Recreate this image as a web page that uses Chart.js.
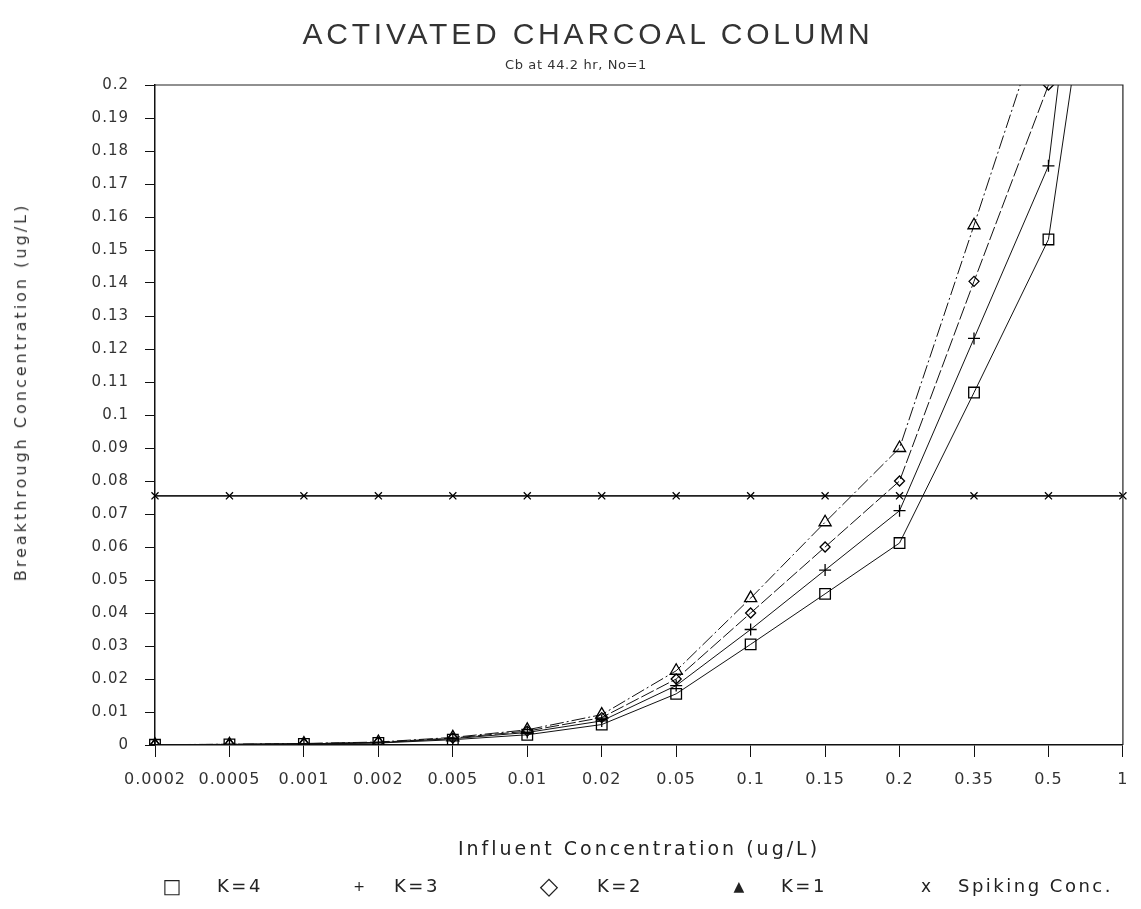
<!DOCTYPE html>
<html>
<head>
<meta charset="utf-8">
<script src="https://cdn.jsdelivr.net/npm/chart.js@4/dist/chart.umd.min.js"></script>
<style>
html,body{margin:0;padding:0;background:#fff;}
#wrap{position:relative;width:1141px;height:909px;overflow:hidden;background:#fff;}
#c{position:absolute;left:0;top:0;}
.txt{position:absolute;white-space:nowrap;color:#222;font-family:'DejaVu Sans',sans-serif;line-height:1;}
#title{left:588px;top:34px;transform:translate(-50%,-50%);font-family:'Liberation Sans',sans-serif;font-size:30px;letter-spacing:3.8px;color:#333;}
#subtitle{left:576px;top:64px;transform:translate(-50%,-50%);font-size:13px;letter-spacing:0.6px;color:#333;}
#ytitle{left:21px;top:392px;transform:translate(-50%,-50%) rotate(-90deg);font-size:16px;letter-spacing:3px;color:#333;}
#xtitle{left:639px;top:848px;transform:translate(-50%,-50%);font-size:19px;letter-spacing:3px;}
.sym{transform:translate(-50%,-50%);font-size:20px;}
.lab{transform:translateY(-50%);font-size:18px;letter-spacing:2.5px;}
</style>
</head>
<body>
<div id="wrap">
<canvas id="c" width="1141" height="909"></canvas>
<div class="txt" id="title">ACTIVATED CHARCOAL COLUMN</div>
<div class="txt" id="subtitle">Cb at 44.2 hr, No=1</div>
<div class="txt" id="ytitle">Breakthrough Concentration (ug/L)</div>
<div class="txt" id="xtitle">Influent Concentration (ug/L)</div>
<div id="legend"></div>
</div>
<script>
// ---- data ----
const categories = ['0.0002','0.0005','0.001','0.002','0.005','0.01','0.02','0.05','0.1','0.15','0.2','0.35','0.5','1'];
const k4 = [0.00006,0.00015,0.0003,0.0006,0.0016,0.0031,0.0062,0.0155,0.0305,0.0458,0.0612,0.1068,0.1532,0.306];
const k3 = [0.00007,0.00018,0.00036,0.0007,0.0019,0.0038,0.0073,0.0180,0.0350,0.0530,0.0710,0.1232,0.1755,0.362];
const k2 = [0.00008,0.0002,0.0004,0.0008,0.0021,0.0042,0.0083,0.0200,0.0400,0.0600,0.0800,0.1405,0.2000,0.400];
const k1 = [0.00009,0.00023,0.00046,0.0009,0.0023,0.0046,0.0092,0.0225,0.0445,0.0675,0.0900,0.1575,0.2260,0.450];
const spiking = [0.0755,0.0755,0.0755,0.0755,0.0755,0.0755,0.0755,0.0755,0.0755,0.0755,0.0755,0.0755,0.0755,0.0755];
const seriesNames = ['K=4','K=3','K=2','K=1','Spiking Conc.'];
const yMin = 0, yMax = 0.2, yStep = 0.01;

// ---- legend (HTML) ----
const legendSyms = ['\u25A1','+','\u25C7','\u25B2','x'];
const legendSymX = [172,359,549,739,926];
const legendTextX = [217,394,597,781,958];
const legendY = 886;
const lg = document.getElementById('legend');
seriesNames.forEach((n,i)=>{
  const s = document.createElement('div');
  s.className='txt sym'; s.textContent=legendSyms[i];
  s.style.left=legendSymX[i]+'px'; s.style.top=legendY+'px';
  if(i===1){s.style.fontSize='14px';}
  if(i===2){s.style.fontSize='24px';}
  if(i===3){s.style.fontSize='14px';}
  if(i===4){s.style.fontSize='17px';}
  lg.appendChild(s);
  const t = document.createElement('div');
  t.className='txt lab'; t.textContent=n;
  t.style.left=legendTextX[i]+'px'; t.style.top=legendY+'px';
  lg.appendChild(t);
});

// ---- plugins ----
const spacingPlugin = {
  id:'spacing',
  beforeDraw(chart){ chart.ctx.letterSpacing = '1px'; },
  afterDraw(chart){ chart.ctx.letterSpacing = '0px'; }
};
const framePlugin = {
  id:'frame',
  afterDraw(chart){
    const {ctx, chartArea:a} = chart;
    ctx.save();
    ctx.strokeStyle='#222';
    ctx.lineWidth=1.2;
    ctx.beginPath();
    ctx.moveTo(a.left,a.top); ctx.lineTo(a.right,a.top); ctx.lineTo(a.right,a.bottom);
    ctx.stroke();
    ctx.restore();
  }
};

const base = {borderColor:'#111',borderWidth:1,pointBorderColor:'#000',pointBackgroundColor:'rgba(0,0,0,0)',pointBorderWidth:1.3,tension:0,fill:false};

new Chart(document.getElementById('c'),{
  type:'line',
  data:{
    labels:categories,
    datasets:[
      Object.assign({},base,{label:seriesNames[0],data:k4,pointStyle:'rect',pointRadius:7.5}),
      Object.assign({},base,{label:seriesNames[1],data:k3,pointStyle:'cross',pointRadius:6}),
      Object.assign({},base,{label:seriesNames[2],data:k2,pointStyle:'rectRot',pointRadius:5,borderDash:[14,3]}),
      Object.assign({},base,{label:seriesNames[3],data:k1,pointStyle:'triangle',pointRadius:7,borderDash:[14,3,2,3]}),
      Object.assign({},base,{label:seriesNames[4],data:spiking,pointStyle:'crossRot',pointRadius:5,borderWidth:1.8,borderColor:'#222'})
    ]
  },
  options:{
    responsive:false,
    animation:false,
    devicePixelRatio:1,
    layout:{padding:{top:85,right:18,bottom:0,left:0}},
    plugins:{legend:{display:false},title:{display:false},tooltip:{enabled:false}},
    scales:{
      x:{
        type:'category',
        offset:false,
        grid:{drawOnChartArea:false,drawTicks:true,tickLength:12,color:'#111',lineWidth:1},
        border:{display:true,color:'#111',width:1.5},
        ticks:{font:{family:'DejaVu Sans',size:16},color:'#333',padding:13,maxRotation:0,autoSkip:false},
        afterFit(s){s.height=164;}
      },
      y:{
        min:yMin,max:yMax,
        grid:{drawOnChartArea:false,drawTicks:true,tickLength:10,color:'#111',lineWidth:1},
        border:{display:true,color:'#111',width:1.5},
        ticks:{stepSize:yStep,font:{family:'DejaVu Sans',size:15},color:'#333',padding:16,
          callback:(v)=>String(parseFloat(Number(v).toFixed(2)))},
        afterFit(s){s.width=155;}
      }
    }
  },
  plugins:[spacingPlugin, framePlugin]
});
</script>
</body>
</html>
